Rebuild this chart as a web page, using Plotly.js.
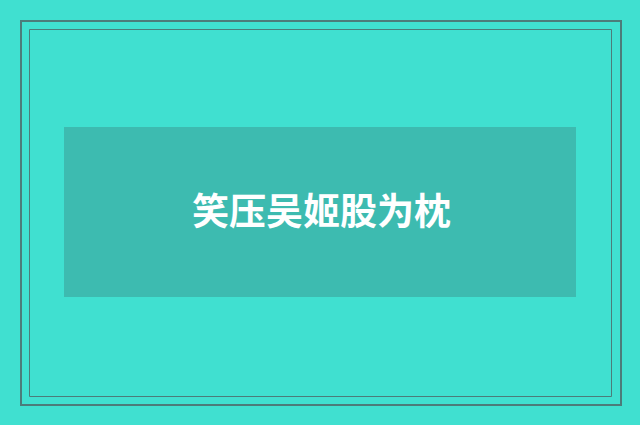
<!DOCTYPE html>
<html>
<head>
<meta charset="utf-8">
<script src="https://cdn.plot.ly/plotly-3.0.1.min.js"></script>
<style>
  html, body { margin: 0; padding: 0; background: #40e0d0; }
  #card { width: 640px; height: 425px; }
</style>
</head>
<body>
<div id="card"></div>
<script>
// headline text shown on the banner
const headline = ['笑压吴姬股为枕'];

// frame boxes: [x0, y0, x1, y1] in pixel space of the card
const outerBox = [21, 21, 621, 405];
const innerBox = [29.5, 29.5, 611.5, 396.5];
const bannerBox = [64, 127, 576, 297];

const bg = '#40e0d0';
const frameColor = '#4c7c7a';
const bannerColor = '#3dbbb0';

function rect(b, opts) {
  return Object.assign({
    type: 'rect', xref: 'x', yref: 'y',
    x0: b[0], y0: b[1], x1: b[2], y1: b[3],
    layer: 'below'
  }, opts);
}

const layout = {
  width: 640,
  height: 425,
  margin: { l: 0, r: 0, t: 0, b: 0 },
  paper_bgcolor: bg,
  plot_bgcolor: bg,
  showlegend: false,
  xaxis: { range: [0, 640], visible: false, fixedrange: true },
  yaxis: { range: [425, 0], visible: false, fixedrange: true },
  shapes: [
    rect(outerBox, { line: { color: frameColor, width: 2 } }),
    rect(innerBox, { line: { color: frameColor, width: 1 } }),
    rect(bannerBox, { fillcolor: bannerColor, line: { width: 0 } })
  ],
  annotations: [{
    x: (bannerBox[0] + bannerBox[2]) / 2 + 1,
    y: (bannerBox[1] + bannerBox[3]) / 2 - 3,
    xref: 'x', yref: 'y',
    text: headline[0],
    showarrow: false,
    xanchor: 'center',
    yanchor: 'middle',
    font: { family: '"Noto Sans CJK SC", sans-serif', size: 37, color: '#ffffff', weight: 'bold' }
  }]
};

Plotly.newPlot('card', [], layout, { displayModeBar: false, staticPlot: true });
</script>
</body>
</html>
